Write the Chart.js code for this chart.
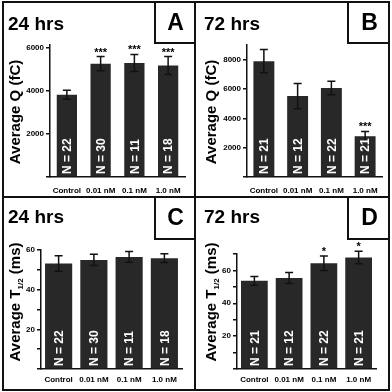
<!DOCTYPE html>
<html>
<head>
<meta charset="utf-8">
<script src="https://cdn.jsdelivr.net/npm/chart.js@4.4.1/dist/chart.umd.min.js"></script>
<style>
  body { margin: 0; background: #fff; }
  #wrap { position: relative; width: 392px; height: 392px; overflow: hidden; }
  canvas { position: absolute; }
  .line { position: absolute; background: #111; }
  .frame { position: absolute; left: 2px; top: 1px; width: 388px; height: 390px; border: 2px solid #111; box-sizing: border-box; }
  .ttl { position: absolute; font: bold 19px "Liberation Sans", Arial, sans-serif; line-height: 19px; height: 19px; color: #000; white-space: nowrap; }
  .lbox { position: absolute; border-left: 2px solid #111; border-bottom: 2px solid #111; box-sizing: border-box;
          display: flex; align-items: center; justify-content: center;
          font: bold 23px "Liberation Sans", Arial, sans-serif; line-height: 23px; color: #000; }
</style>
</head>
<body>
<div id="wrap">
  <canvas id="cA" width="196" height="196" style="left:0;top:0"></canvas>
  <canvas id="cB" width="196" height="196" style="left:196px;top:0"></canvas>
  <canvas id="cC" width="196" height="196" style="left:0;top:196px"></canvas>
  <canvas id="cD" width="196" height="196" style="left:196px;top:196px"></canvas>

  <div class="frame"></div>
  <div class="line" style="left:194px;top:1px;width:2px;height:390px"></div>
  <div class="line" style="left:2px;top:196px;width:388px;height:2px"></div>

  <div class="ttl" style="left:8px;top:14px">24 hrs</div>
  <div class="ttl" style="left:204px;top:14px">72 hrs</div>
  <div class="ttl" style="left:8px;top:207px">24 hrs</div>
  <div class="ttl" style="left:204px;top:207px">72 hrs</div>

  <div class="lbox" style="left:154px;top:2px;width:41px;height:42px">A</div>
  <div class="lbox" style="left:347px;top:2px;width:43px;height:42px">B</div>
  <div class="lbox" style="left:154px;top:197px;width:41px;height:43px">C</div>
  <div class="lbox" style="left:347px;top:197px;width:43px;height:43px">D</div>
</div>

<script>
// data
var categories = ['Control', '0.01 nM', '0.1 nM', '1.0 nM'];

var q24 = [3830, 5280, 5310, 5190];
var q24Err = [210, 330, 400, 420];
var q72 = [7900, 5520, 6060, 2780];
var q72Err = [790, 860, 460, 330];

var t24 = [53.2, 55.0, 56.5, 55.9];
var t24Err = [3.9, 2.8, 2.7, 2.2];
var t72 = [53.7, 55.4, 64.4, 67.9];
var t72Err = [2.65, 3.4, 4.4, 3.8];

var n24 = [22, 30, 11, 18];
var n72 = [21, 12, 22, 21];

var starsQ24 = ['', '***', '***', '***'];
var starsQ72 = ['', '', '', '***'];
var starsT24 = ['', '', '', ''];
var starsT72 = ['', '', '*', '*'];

// tick positions and the labels printed next to them
var qTicksA = [0, 2000, 4000, 6000];
var qLabelsA = ['', '2000', '4000', '6000'];
var qTicksB = [0, 2000, 4000, 6000, 8000];
var qLabelsB = ['', '2000', '4000', '6000', '8000'];
var tTicksC = [0, 10, 20, 30, 40, 50, 60];
var tLabelsC = ['', '', '20', '', '40', '', '60'];
var tTicksD = [0, 10, 20, 30, 40, 50, 60, 70];
var tLabelsD = ['', '', '20', '', '40', '', '60', ''];

var FONT = '"Liberation Sans", Arial, sans-serif';
Chart.defaults.font.family = FONT;
Chart.defaults.font.weight = 'bold';
Chart.defaults.color = '#000';

// error bars, N labels, significance stars, y title
var extras = {
    id: 'extras',
    afterDatasetsDraw: function(chart, args, opts) {
        var ctx = chart.ctx;
        var y = chart.scales.y;
        var vals = chart.data.datasets[0].data;
        var bottom = chart.chartArea.bottom;
        ctx.save();
        chart.getDatasetMeta(0).data.forEach(function(bar, i) {
            var x = bar.x;
            var hi = y.getPixelForValue(vals[i] + opts.err[i]);
            var lo = y.getPixelForValue(vals[i] - opts.err[i]);
            ctx.strokeStyle = '#111';
            ctx.lineWidth = 1.5;
            ctx.beginPath();
            ctx.moveTo(x, hi); ctx.lineTo(x, lo);
            ctx.moveTo(x - 4, hi); ctx.lineTo(x + 4, hi);
            ctx.moveTo(x - 4, lo); ctx.lineTo(x + 4, lo);
            ctx.stroke();

            ctx.save();
            ctx.translate(x, bottom - 3);
            ctx.rotate(-Math.PI / 2);
            ctx.fillStyle = '#fff';
            ctx.font = 'bold 12px ' + FONT;
            ctx.textAlign = 'left';
            ctx.textBaseline = 'alphabetic';
            ctx.fillText('N = ' + opts.n[i], 0, 4.3);
            ctx.restore();

            if (opts.stars[i]) {
                ctx.fillStyle = '#000';
                ctx.font = 'bold 11px ' + FONT;
                ctx.textAlign = 'center';
                ctx.textBaseline = 'alphabetic';
                ctx.fillText(opts.stars[i], x, hi - 1);
            }
        });

        // rotated y-axis title, with optional subscript
        var big = 'bold 15px ' + FONT, small = 'bold 8px ' + FONT;
        ctx.fillStyle = '#000';
        ctx.textAlign = 'left';
        ctx.textBaseline = 'alphabetic';
        ctx.font = big;
        var w1 = ctx.measureText(opts.title[0]).width;
        var w3 = ctx.measureText(opts.title[2]).width;
        ctx.font = small;
        var w2 = opts.title[1] ? ctx.measureText(opts.title[1]).width : 0;
        var total = w1 + w2 + w3;
        ctx.translate(19.5, opts.titleY);
        ctx.rotate(-Math.PI / 2);
        var sx = -total / 2;
        ctx.font = big;
        ctx.fillText(opts.title[0], sx, 0);
        if (opts.title[1]) {
            ctx.font = small;
            ctx.fillText(opts.title[1], sx + w1, 3);
        }
        ctx.font = big;
        ctx.fillText(opts.title[2], sx + w1 + w2, 0);
        ctx.restore();
    }
};

function makePanel(id, cfg) {
    new Chart(document.getElementById(id), {
        type: 'bar',
        data: {
            labels: categories,
            datasets: [{
                data: cfg.values,
                backgroundColor: '#282828',
                borderWidth: 0,
                barPercentage: cfg.barPct,
                categoryPercentage: 1
            }]
        },
        options: {
            responsive: false,
            animation: false,
            devicePixelRatio: 1,
            layout: { padding: { left: 0, right: 196 - cfg.right, top: cfg.top, bottom: 0 } },
            plugins: {
                legend: { display: false },
                tooltip: { enabled: false },
                extras: { err: cfg.err, n: cfg.n, stars: cfg.stars, title: cfg.title, titleY: cfg.titleY }
            },
            scales: {
                x: {
                    offset: true,
                    grid: { display: true, drawOnChartArea: false, drawTicks: false },
                    border: { display: true, color: '#111', width: 1.5 },
                    ticks: { font: { size: 8, weight: 'bold' }, color: '#000', padding: cfg.xPad, maxRotation: 0, autoSkip: false },
                    afterFit: function(s) { s.height = 196 - cfg.bottom; }
                },
                y: {
                    min: 0,
                    max: cfg.max,
                    grid: { drawOnChartArea: false, drawTicks: true, tickLength: 4, color: '#111', lineWidth: 1.5 },
                    border: { display: true, color: '#111', width: 1.5 },
                    ticks: {
                        autoSkip: false,
                        padding: 2,
                        font: { size: 8, weight: 'bold' },
                        color: '#000',
                        callback: function(v, i) { return cfg.tickLabels[i]; }
                    },
                    afterBuildTicks: function(s) {
                        s.ticks = cfg.ticks.map(function(v) { return { value: v }; });
                    },
                    afterFit: function(s) { s.width = cfg.left; }
                }
            }
        },
        plugins: [extras]
    });
}

makePanel('cA', { values: q24, err: q24Err, n: n24, stars: starsQ24, max: 6150, ticks: qTicksA, tickLabels: qLabelsA,
    left: 50, right: 185, top: 45, bottom: 177, barPct: 0.6, xPad: 9,
    title: ['Average Q (fC)', '', ''], titleY: 112 });
makePanel('cB', { values: q72, err: q72Err, n: n72, stars: starsQ72, max: 9000, ticks: qTicksB, tickLabels: qLabelsB,
    left: 51, right: 186, top: 45, bottom: 177, barPct: 0.62, xPad: 9,
    title: ['Average Q (fC)', '', ''], titleY: 112 });
makePanel('cC', { values: t24, err: t24Err, n: n24, stars: starsT24, max: 60, ticks: tTicksC, tickLabels: tLabelsC,
    left: 41, right: 182, top: 54, bottom: 173, barPct: 0.77, xPad: 6,
    title: ['Average T', '1/2', ' (ms)'], titleY: 106 });
makePanel('cD', { values: t72, err: t72Err, n: n72, stars: starsT72, max: 70, ticks: tTicksD, tickLabels: tLabelsD,
    left: 41, right: 180, top: 58, bottom: 173, barPct: 0.77, xPad: 6,
    title: ['Average T', '1/2', ' (ms)'], titleY: 106 });
</script>
</body>
</html>
